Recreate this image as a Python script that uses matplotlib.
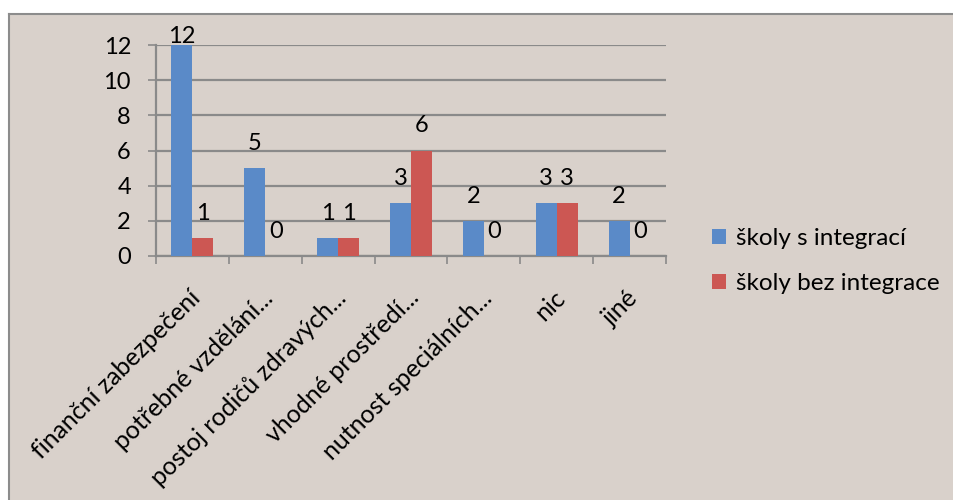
import matplotlib
matplotlib.use("Agg")
import numpy as np
import matplotlib.pyplot as plt
from matplotlib.patches import Rectangle
from matplotlib.lines import Line2D

plt.rcParams['font.family'] = ['Lato', 'DejaVu Sans']

categories = ["finanční zabezpečení", "potřebné vzdělání...", "postoj rodičů zdravých...",
              "vhodné prostředí...", "nutnost speciálních...", "nic", "jiné"]
s_integraci = [12, 5, 1, 3, 2, 3, 2]
bez_integrace = [1, 0, 1, 6, 0, 3, 0]
series_names = ["školy s integrací", "školy bez integrace"]
yticks = [0, 2, 4, 6, 8, 10, 12]

bg = '#d9d1cb'
blue = '#5a8ac8'
red = '#cc5753'
grid = '#8a8a8a'

fig = plt.figure(figsize=(9.54, 5), dpi=100, facecolor=bg)
# white margin top/left + chart area border
fx, fy = 9 / 954, 1 - 14 / 500
fig.patches.append(Rectangle((0, fy), 1, 1 - fy, transform=fig.transFigure,
                             facecolor='white', edgecolor='none', zorder=-10))
fig.patches.append(Rectangle((0, 0), fx, 1, transform=fig.transFigure,
                             facecolor='white', edgecolor='none', zorder=-10))
fig.lines.append(Line2D([fx, 1], [fy, fy], transform=fig.transFigure, color='#8c8c8c', lw=1.5))
fig.lines.append(Line2D([fx, fx], [0, fy], transform=fig.transFigure, color='#8c8c8c', lw=1.5))

ax = fig.add_axes([156 / 954, 1 - 256 / 500, 510 / 954, 211 / 500])
ax.set_facecolor('none')

x = np.arange(len(categories))
w = 0.288
b1 = ax.bar(x - w / 2, s_integraci, w, color=blue, label=series_names[0], zorder=3)
b2 = ax.bar(x + w / 2, bez_integrace, w, color=red, label=series_names[1], zorder=3)

for xs, vals in ((x - w / 2, s_integraci), (x + w / 2, bez_integrace)):
    for xi, v in zip(xs, vals):
        ax.text(xi, min(v + 1.4, 12.5), str(v), ha='center', va='center', fontsize=17, zorder=4)

ax.set_xlim(-0.5, len(categories) - 0.5)
ax.set_ylim(0, 12)
ax.set_yticks(yticks)
ax.set_yticklabels([str(t) for t in yticks], fontsize=17)
ax.yaxis.grid(True, color=grid, linewidth=1.6)
ax.set_axisbelow(True)
ax.tick_params(axis='y', length=6, width=1.2, color=grid, pad=12)

ax.set_xticks(np.arange(len(categories) + 1) - 0.5, minor=True)
ax.set_xticks(x)
ax.tick_params(axis='x', which='major', length=0)
ax.tick_params(axis='x', which='minor', length=6, width=1.2, color=grid)
ax.set_xticklabels([])
for xi, lab in zip(x, categories):
    ax.annotate(lab, xy=(xi, 0), xytext=(9, -21.5), textcoords='offset points',
                rotation=45, ha='right', va='top', fontsize=18)

for side in ['top', 'right']:
    ax.spines[side].set_visible(False)
ax.spines['left'].set_color(grid)
ax.spines['left'].set_linewidth(1.6)
ax.spines['bottom'].set_color(grid)
ax.spines['bottom'].set_linewidth(1.6)

fig.legend(handles=[b1, b2], labels=series_names, loc='center left',
           bbox_to_anchor=(690 / 954, 1 - 261 / 500), frameon=False, fontsize=17.5,
           handlelength=0.6, handleheight=0.6, handletextpad=0.4, labelspacing=1.0)

plt.savefig("out.png", dpi=100, facecolor=fig.get_facecolor())
plt.close()
